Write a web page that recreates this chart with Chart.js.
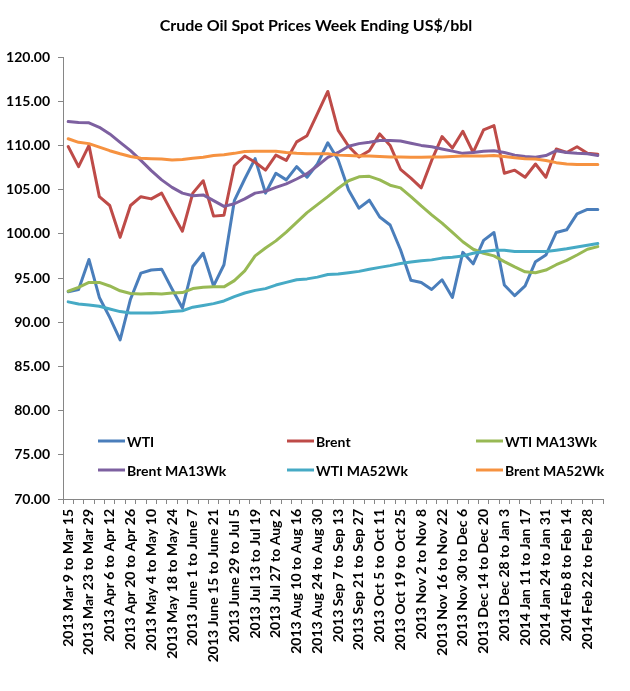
<!DOCTYPE html>
<html>
<head>
<meta charset="utf-8">
<title>Crude Oil Spot Prices</title>
<script src="https://cdn.jsdelivr.net/npm/chart.js@4.4.1/dist/chart.umd.min.js"></script>
<style>
  html, body { margin: 0; padding: 0; background: #fff; }
  #wrap { width: 630px; height: 691px; position: relative; }
</style>
</head>
<body>
<div id="wrap"><canvas id="grafico"></canvas></div>
<script>
const titulo = "Crude Oil Spot Prices Week Ending US$/bbl";

const semanas = [
  "2013 Mar 9 to Mar 15", "2013 Mar 16 to Mar 22", "2013 Mar 23 to Mar 29", "2013 Mar 30 to Apr 5",
  "2013 Apr 6 to Apr 12", "2013 Apr 13 to Apr 19", "2013 Apr 20 to Apr 26", "2013 Apr 27 to May 3",
  "2013 May 4 to May 10", "2013 May 11 to May 17", "2013 May 18 to May 24", "2013 May 25 to May 31",
  "2013 June 1 to June 7", "2013 June 8 to June 14", "2013 June 15 to June 21", "2013 June 22 to June 28",
  "2013 June 29 to Jul 5", "2013 Jul 6 to Jul 12", "2013 Jul 13 to Jul 19", "2013 Jul 20 to Jul 26",
  "2013 Jul 27 to Aug 2", "2013 Aug 3 to Aug 9", "2013 Aug 10 to Aug 16", "2013 Aug 17 to Aug 23",
  "2013 Aug 24 to Aug 30", "2013 Aug 31 to Sep 6", "2013 Sep 7 to Sep 13", "2013 Sep 14 to Sep 20",
  "2013 Sep 21 to Sep 27", "2013 Sep 28 to Oct 4", "2013 Oct 5 to Oct 11", "2013 Oct 12 to Oct 18",
  "2013 Oct 19 to Oct 25", "2013 Oct 26 to Nov 1", "2013 Nov 2 to Nov 8", "2013 Nov 9 to Nov 15",
  "2013 Nov 16 to Nov 22", "2013 Nov 23 to Nov 29", "2013 Nov 30 to Dec 6", "2013 Dec 7 to Dec 13",
  "2013 Dec 14 to Dec 20", "2013 Dec 21 to Dec 27", "2013 Dec 28 to Jan 3", "2014 Jan 4 to Jan 10",
  "2014 Jan 11 to Jan 17", "2014 Jan 18 to Jan 23", "2014 Jan 24 to Jan 31", "2014 Feb 1 to Feb 7",
  "2014 Feb 8 to Feb 14", "2014 Feb 15 to Feb 21", "2014 Feb 22 to Feb 28", "2014 Mar 1 to Mar 7"
];

const wti = [
  93.45, 93.7, 97.1, 92.8, 90.55, 88.0, 92.6, 95.55, 95.9, 96.0, 93.75, 91.6, 96.3,
  97.8, 94.1, 96.5, 103.75, 106.2, 108.5, 104.6, 106.85, 106.1, 107.6, 106.4, 107.9, 110.3,
  108.35, 104.95, 102.9, 103.8, 101.9, 101.0, 98.2, 94.75, 94.5, 93.7, 94.8, 92.8, 97.9,
  96.6, 99.25, 100.15, 94.2, 93.0, 94.1, 96.85, 97.6, 100.15, 100.45, 102.25, 102.75, 102.75
];
const brent = [
  109.87, 107.6, 110.0, 104.2, 103.2, 99.6, 103.2, 104.2, 103.95, 104.6, 102.4, 100.3, 104.6,
  106.0, 102.0, 102.1, 107.7, 108.8, 108.1, 107.2, 108.9, 108.3, 110.4, 111.1, 113.6, 116.1,
  111.7, 109.9, 108.7, 109.4, 111.3, 110.0, 107.3, 106.3, 105.2, 108.3, 111.0, 109.7, 111.6,
  109.2, 111.75, 112.25, 106.85, 107.2, 106.4, 107.9, 106.4, 109.6, 109.2, 109.85, 109.1, 109.0
];
const wtiMa13 = [
  93.5, 93.95, 94.5, 94.5, 94.1, 93.55, 93.25, 93.2, 93.25, 93.2, 93.3, 93.35, 93.8,
  93.95, 94.0, 94.0, 94.7, 95.8, 97.5, 98.4, 99.2, 100.2, 101.3, 102.4, 103.3, 104.2,
  105.15, 106.0, 106.45, 106.5, 106.1, 105.5, 105.2, 104.2, 103.15, 102.15, 101.2, 100.15, 99.1,
  98.25, 97.8, 97.5, 96.85, 96.25, 95.7, 95.6, 95.9, 96.5, 97.0, 97.6, 98.25, 98.55
];
const brentMa13 = [
  112.7, 112.6, 112.55, 112.05, 111.3, 110.35, 109.4, 108.3, 107.15, 106.1, 105.25, 104.6, 104.3,
  104.4, 103.75, 103.1, 103.4, 103.95, 104.6, 104.8, 105.25, 105.65, 106.2, 106.8, 107.7, 108.65,
  109.2, 109.9, 110.2, 110.35, 110.55, 110.55, 110.5, 110.25, 110.0, 109.85, 109.6, 109.35, 109.1,
  109.2, 109.35, 109.4, 109.2, 108.9, 108.75, 108.65, 108.85, 109.4, 109.2, 109.1, 109.05, 108.85
];
const wtiMa52 = [
  92.3, 92.05, 91.95, 91.8, 91.5, 91.2, 91.05, 91.05, 91.05, 91.1, 91.2, 91.3, 91.7,
  91.9, 92.1, 92.4, 92.9, 93.3, 93.6, 93.8, 94.2, 94.5, 94.8, 94.9, 95.1, 95.4,
  95.45, 95.6, 95.75, 96.0, 96.2, 96.4, 96.65, 96.8, 96.95, 97.05, 97.25, 97.35, 97.5,
  97.8, 98.0, 98.15, 98.15, 98.0, 98.0, 98.0, 98.0, 98.15, 98.3, 98.5, 98.7, 98.9
];
const brentMa52 = [
  110.75, 110.35, 110.2, 109.8, 109.4, 109.05, 108.75, 108.55, 108.5, 108.45, 108.35, 108.4, 108.55,
  108.65, 108.85, 108.95, 109.1, 109.3, 109.35, 109.35, 109.35, 109.2, 109.1, 109.05, 109.05, 109.05,
  108.9, 108.85, 108.8, 108.8, 108.75, 108.7, 108.7, 108.65, 108.65, 108.7, 108.7, 108.75, 108.8,
  108.8, 108.8, 108.85, 108.75, 108.6, 108.5, 108.45, 108.3, 108.05, 107.9, 107.85, 107.85, 107.85
];

const nomesSeries = ["WTI", "Brent", "WTI MA13Wk", "Brent MA13Wk", "WTI MA52Wk", "Brent MA52Wk"];
const valoresSeries = [wti, brent, wtiMa13, brentMa13, wtiMa52, brentMa52];
const ticksY = [70, 75, 80, 85, 90, 95, 100, 105, 110, 115, 120];

const cores = ["#4a7ebb", "#be4b48", "#98b954", "#7d60a0", "#46aac5", "#f69240"];
const fonte = "Lato, 'Liberation Sans', sans-serif";
const corEixo = "#868686";

// titulo e legenda desenhados a mao, a legenda fica dentro da area do grafico
const tituloPlugin = {
  id: "tituloPlugin",
  afterDraw(chart) {
    const ctx = chart.ctx;
    ctx.save();
    ctx.fillStyle = "#000";
    ctx.font = "bold 16px " + fonte;
    ctx.textAlign = "center";
    ctx.textBaseline = "middle";
    ctx.fillText(titulo, 316, 26);
    ctx.restore();
  },
};

const legendaPlugin = {
  id: "legendaPlugin",
  afterDatasetsDraw(chart) {
    const ctx = chart.ctx;
    const colunas = [98, 287, 476];
    const linhas = [441, 470];
    ctx.save();
    ctx.font = "bold 14px " + fonte;
    ctx.textBaseline = "middle";
    ctx.fillStyle = "#000";
    nomesSeries.forEach((nome, i) => {
      const x = colunas[i % 3];
      const y = linhas[Math.floor(i / 3)];
      ctx.strokeStyle = cores[i];
      ctx.lineWidth = 3;
      ctx.beginPath();
      ctx.moveTo(x, y);
      ctx.lineTo(x + 27, y);
      ctx.stroke();
      ctx.fillText(nome, x + 29, y + 1);
    });
    ctx.restore();
  },
};

const datasets = valoresSeries.map((valores, i) => ({
  label: nomesSeries[i],
  data: valores,
  borderColor: cores[i],
  backgroundColor: cores[i],
  borderWidth: 3,
  pointRadius: 0,
  tension: 0,
  fill: false,
  borderJoinStyle: "round",
  borderCapStyle: "round",
  order: nomesSeries.length - i,
}));

new Chart(document.getElementById("grafico"), {
  type: "line",
  data: { labels: semanas, datasets: datasets },
  options: {
    responsive: true,
    maintainAspectRatio: false,
    animation: false,
    layout: { padding: { top: 57, right: 27, left: 0, bottom: 0 } },
    plugins: {
      legend: { display: false },
      title: { display: false },
      tooltip: { enabled: false },
    },
    scales: {
      x: {
        type: "category",
        offset: true,
        grid: {
          offset: true,
          drawOnChartArea: false,
          drawTicks: true,
          tickLength: 5,
          color: corEixo,
        },
        border: { color: corEixo, width: 1 },
        ticks: {
          autoSkip: false,
          minRotation: 90,
          maxRotation: 90,
          padding: 5,
          color: "#000",
          font: { family: fonte, size: 14, weight: "bold" },
          callback: function (valor, indice) {
            return indice % 2 === 0 ? this.getLabelForValue(valor) : "";
          },
        },
        afterFit(scale) {
          scale.height = 192;
        },
      },
      y: {
        min: ticksY[0],
        max: ticksY[ticksY.length - 1],
        grid: {
          drawOnChartArea: false,
          drawTicks: true,
          tickLength: 5,
          color: corEixo,
        },
        border: { color: corEixo, width: 1 },
        ticks: {
          stepSize: 5,
          padding: 8,
          color: "#000",
          font: { family: fonte, size: 14, weight: "bold" },
          callback: (v) => Number(v).toFixed(2),
        },
        afterFit(scale) {
          scale.width = 63;
        },
      },
    },
  },
  plugins: [tituloPlugin, legendaPlugin],
});
</script>
</body>
</html>
